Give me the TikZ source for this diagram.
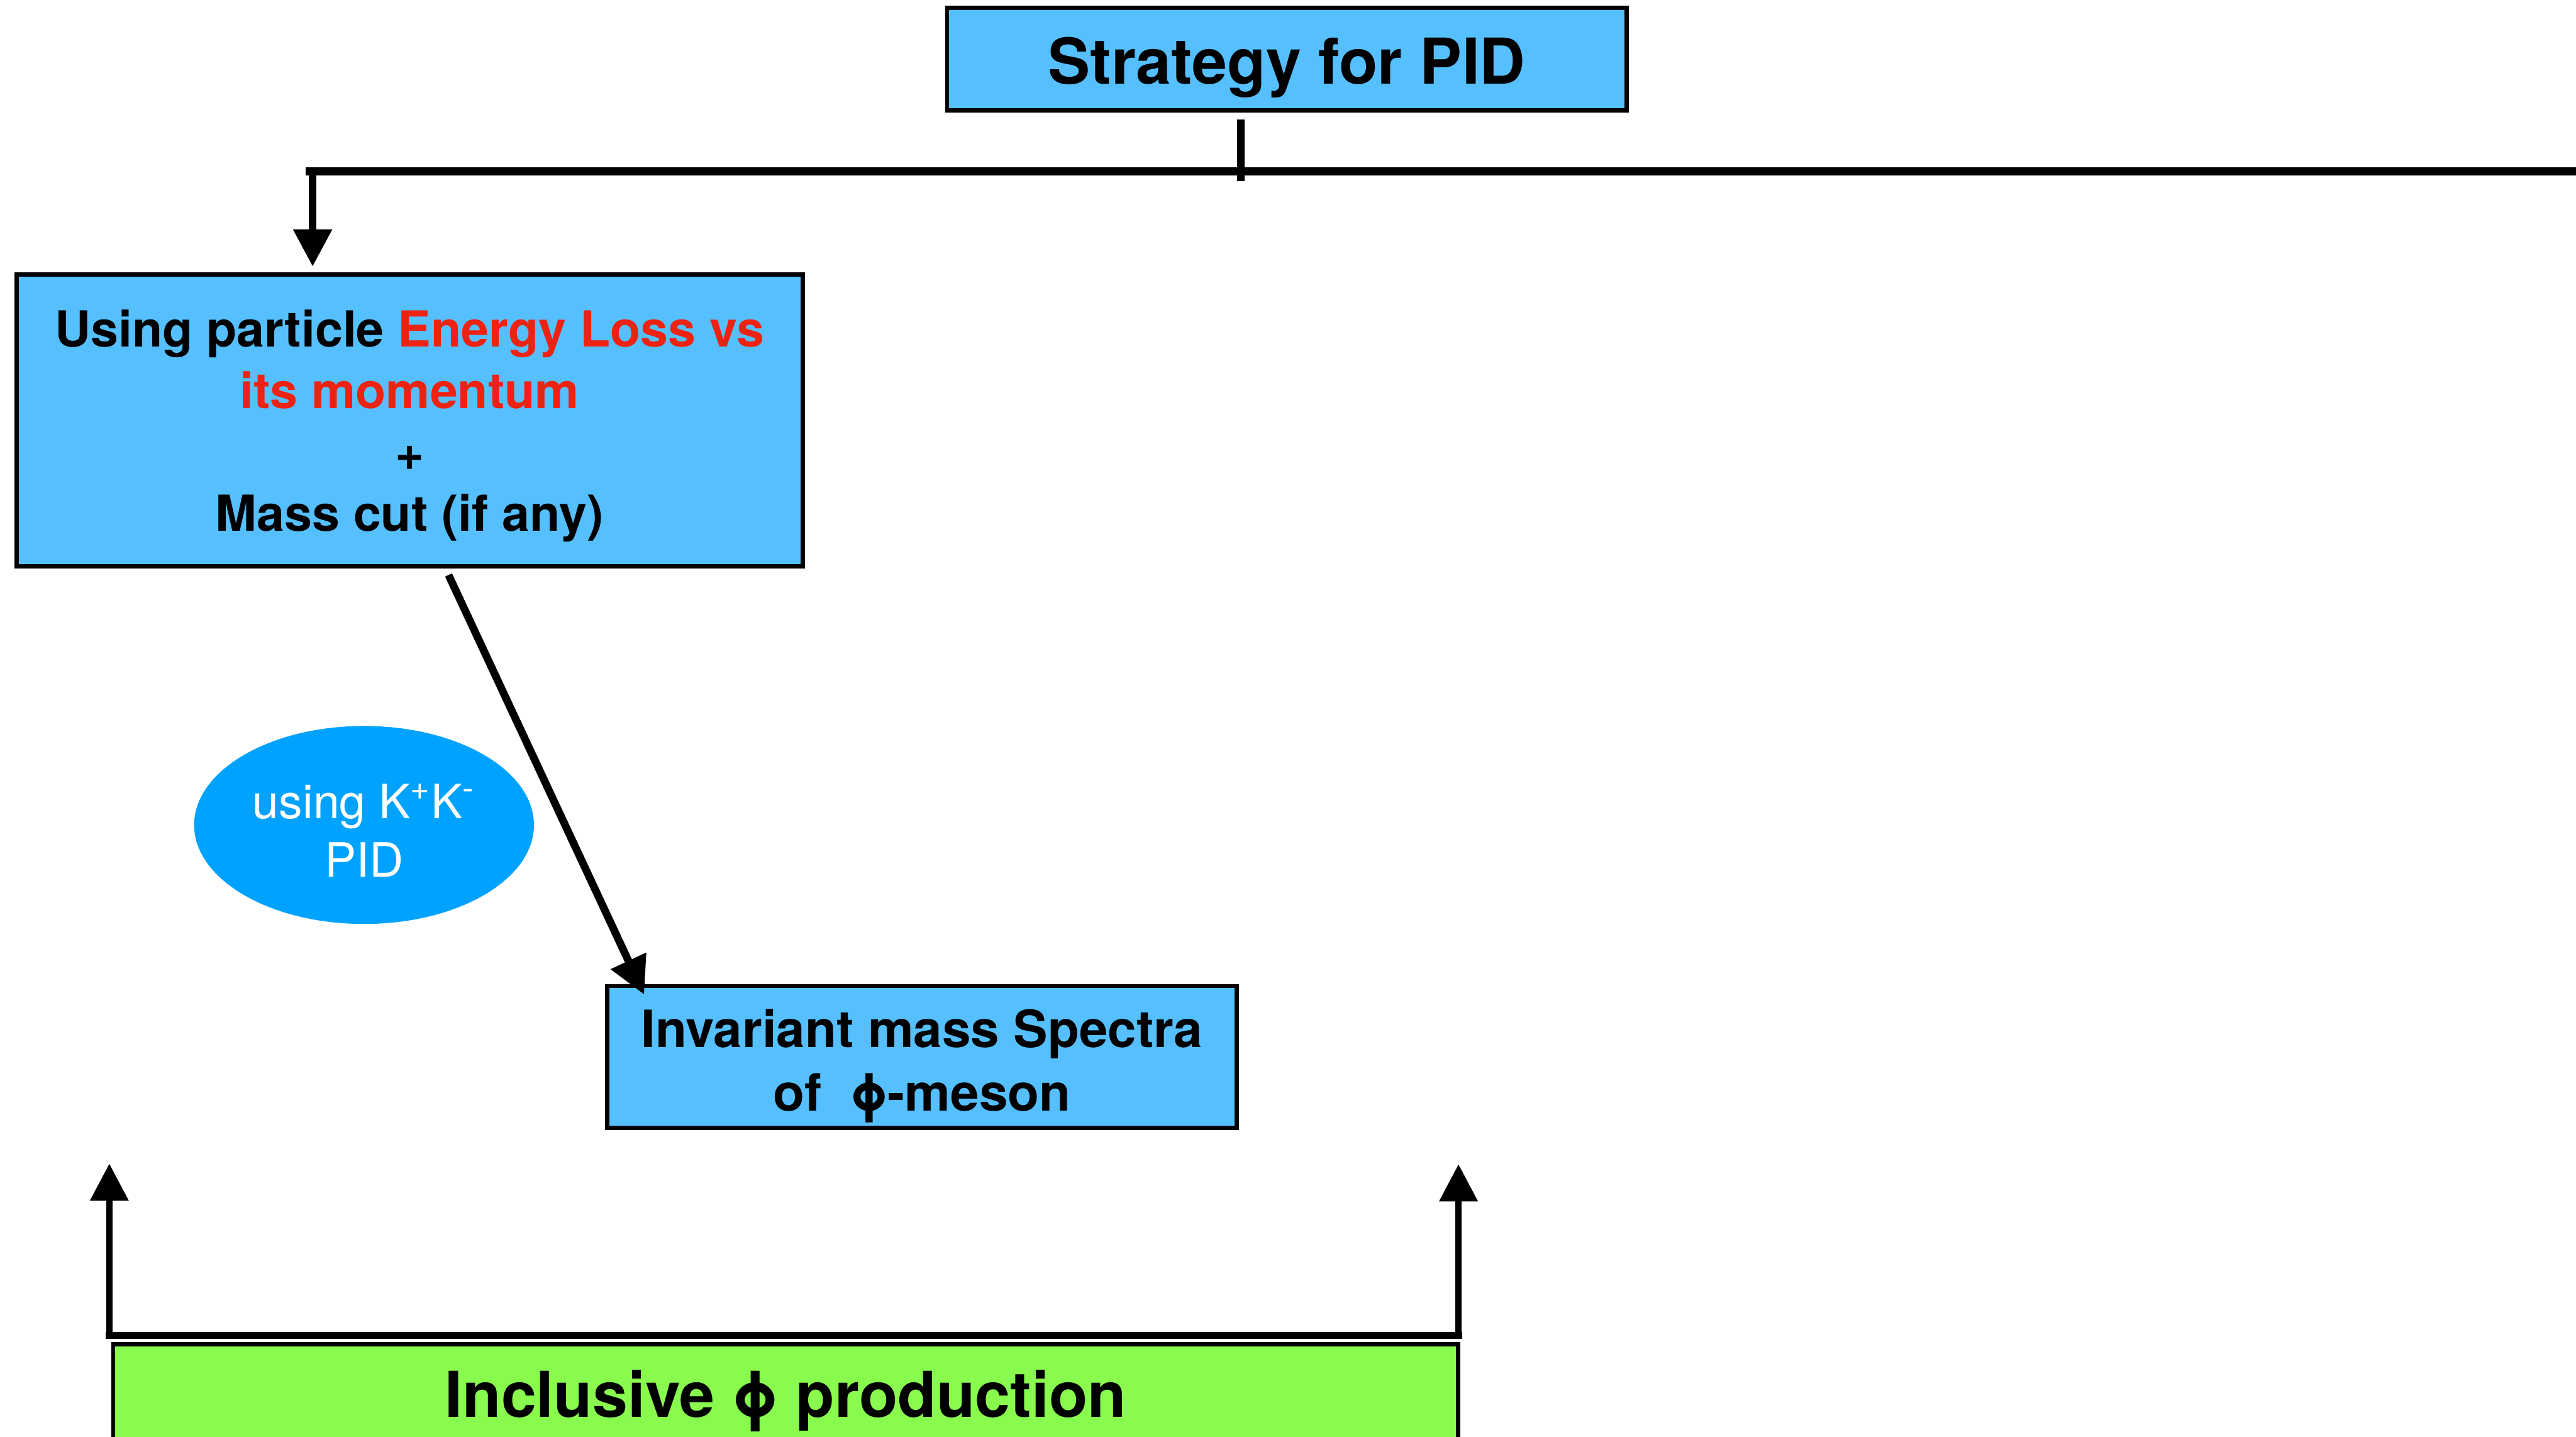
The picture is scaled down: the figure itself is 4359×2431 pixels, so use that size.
\documentclass[tikz,border=0pt]{standalone}
\usepackage{fontspec}
\setmainfont{TeX Gyre Heros}
\usetikzlibrary{arrows.meta,shapes.geometric}
\definecolor{boxblue}{RGB}{86,192,255}
\definecolor{ellblue}{RGB}{0,162,255}
\definecolor{txtred}{RGB}{238,34,17}
\definecolor{boxgreen}{RGB}{137,250,78}
\begin{document}
\begin{tikzpicture}[x=0.2pt,y=-0.2pt,
  box/.style={draw=black, line width=1.4pt, fill=boxblue, inner sep=0pt},
  gbox/.style={draw=black, line width=1.4pt, fill=boxgreen, inner sep=0pt},
  conn/.style={line width=2.6pt, line cap=butt},
  tipd/.style={-{Triangle[width=12.6pt,length=12.6pt]}},
  bigtxt/.style={font=\fontsize{21.4}{25}\selectfont\bfseries, inner sep=0pt},
  midtxt/.style={align=center, inner sep=0pt}
]
\clip (0,0) rectangle (4359,2431);
\fill[white] (0,0) rectangle (4359,2431);

% boxes
\node[box, minimum width=230pt, minimum height=34.8pt] (top) at (2177.5,100) {};
\node[bigtxt, anchor=base] (toptext) at (2177.5,142) {Strategy for PID};

\node[box, minimum width=266pt, minimum height=98.8pt] (loss) at (693.5,711.5) {};
\node[midtxt, font=\fontsize{16.8}{20.8}\selectfont\bfseries] (losstext) at (693,721)
  {Using particle \textcolor{txtred}{Energy Loss vs}\\ \textcolor{txtred}{its momentum}\\ +\\ Mass cut (if any)};

\node[ellipse, fill=ellblue, minimum width=115pt, minimum height=67pt, inner sep=0pt] (kk) at (616,1396) {};
\node[midtxt, text=white, font=\fontsize{16}{19.8}\selectfont] (kktext) at (616,1405)
  {using K\textsuperscript{+}K\textsuperscript{-}\\ PID};

\node[box, minimum width=213pt, minimum height=48pt] (inv) at (1560,1788.5) {};
\node[midtxt, font=\fontsize{17.4}{21.4}\selectfont\bfseries] (invtext) at (1560,1804)
  {Invariant mass Spectra\\ of\ \ ϕ-meson};

\node[gbox, minimum width=455.2pt, minimum height=34.2pt] (incl) at (1329.5,2360) {};
\node[bigtxt, anchor=base] (incltext) at (1329.5,2398) {Inclusive ϕ production};

% top distribution line
\coordinate (hl) at (517,290);
\coordinate (hr) at (4359,290);
\draw[conn] (hl) -- (hr);
\coordinate (tk1) at (2100,202);
\coordinate (tk2) at (2100,307);
\draw[conn] (tk1) -- (tk2);
\coordinate (da) at (529,283);
\draw[conn, tipd] (da) -- ([yshift=2pt]loss.north -| da);

% diagonal
\coordinate (d1) at (759,973);
\coordinate (d2) at (1090,1683);
\draw[conn, tipd] (d1) -- (d2);

% bottom bracket
\coordinate (bl) at (185,2260);
\coordinate (br) at (2468,2260);
\coordinate (al) at (185,1969);
\coordinate (ar) at (2468,1970);
\draw[line width=2.4pt, line cap=rect] (bl) -- (br);
\draw[line width=2.2pt, tipd] (bl) -- (al);
\draw[line width=2.2pt, tipd] (br) -- (ar);
\end{tikzpicture}
\end{document}
